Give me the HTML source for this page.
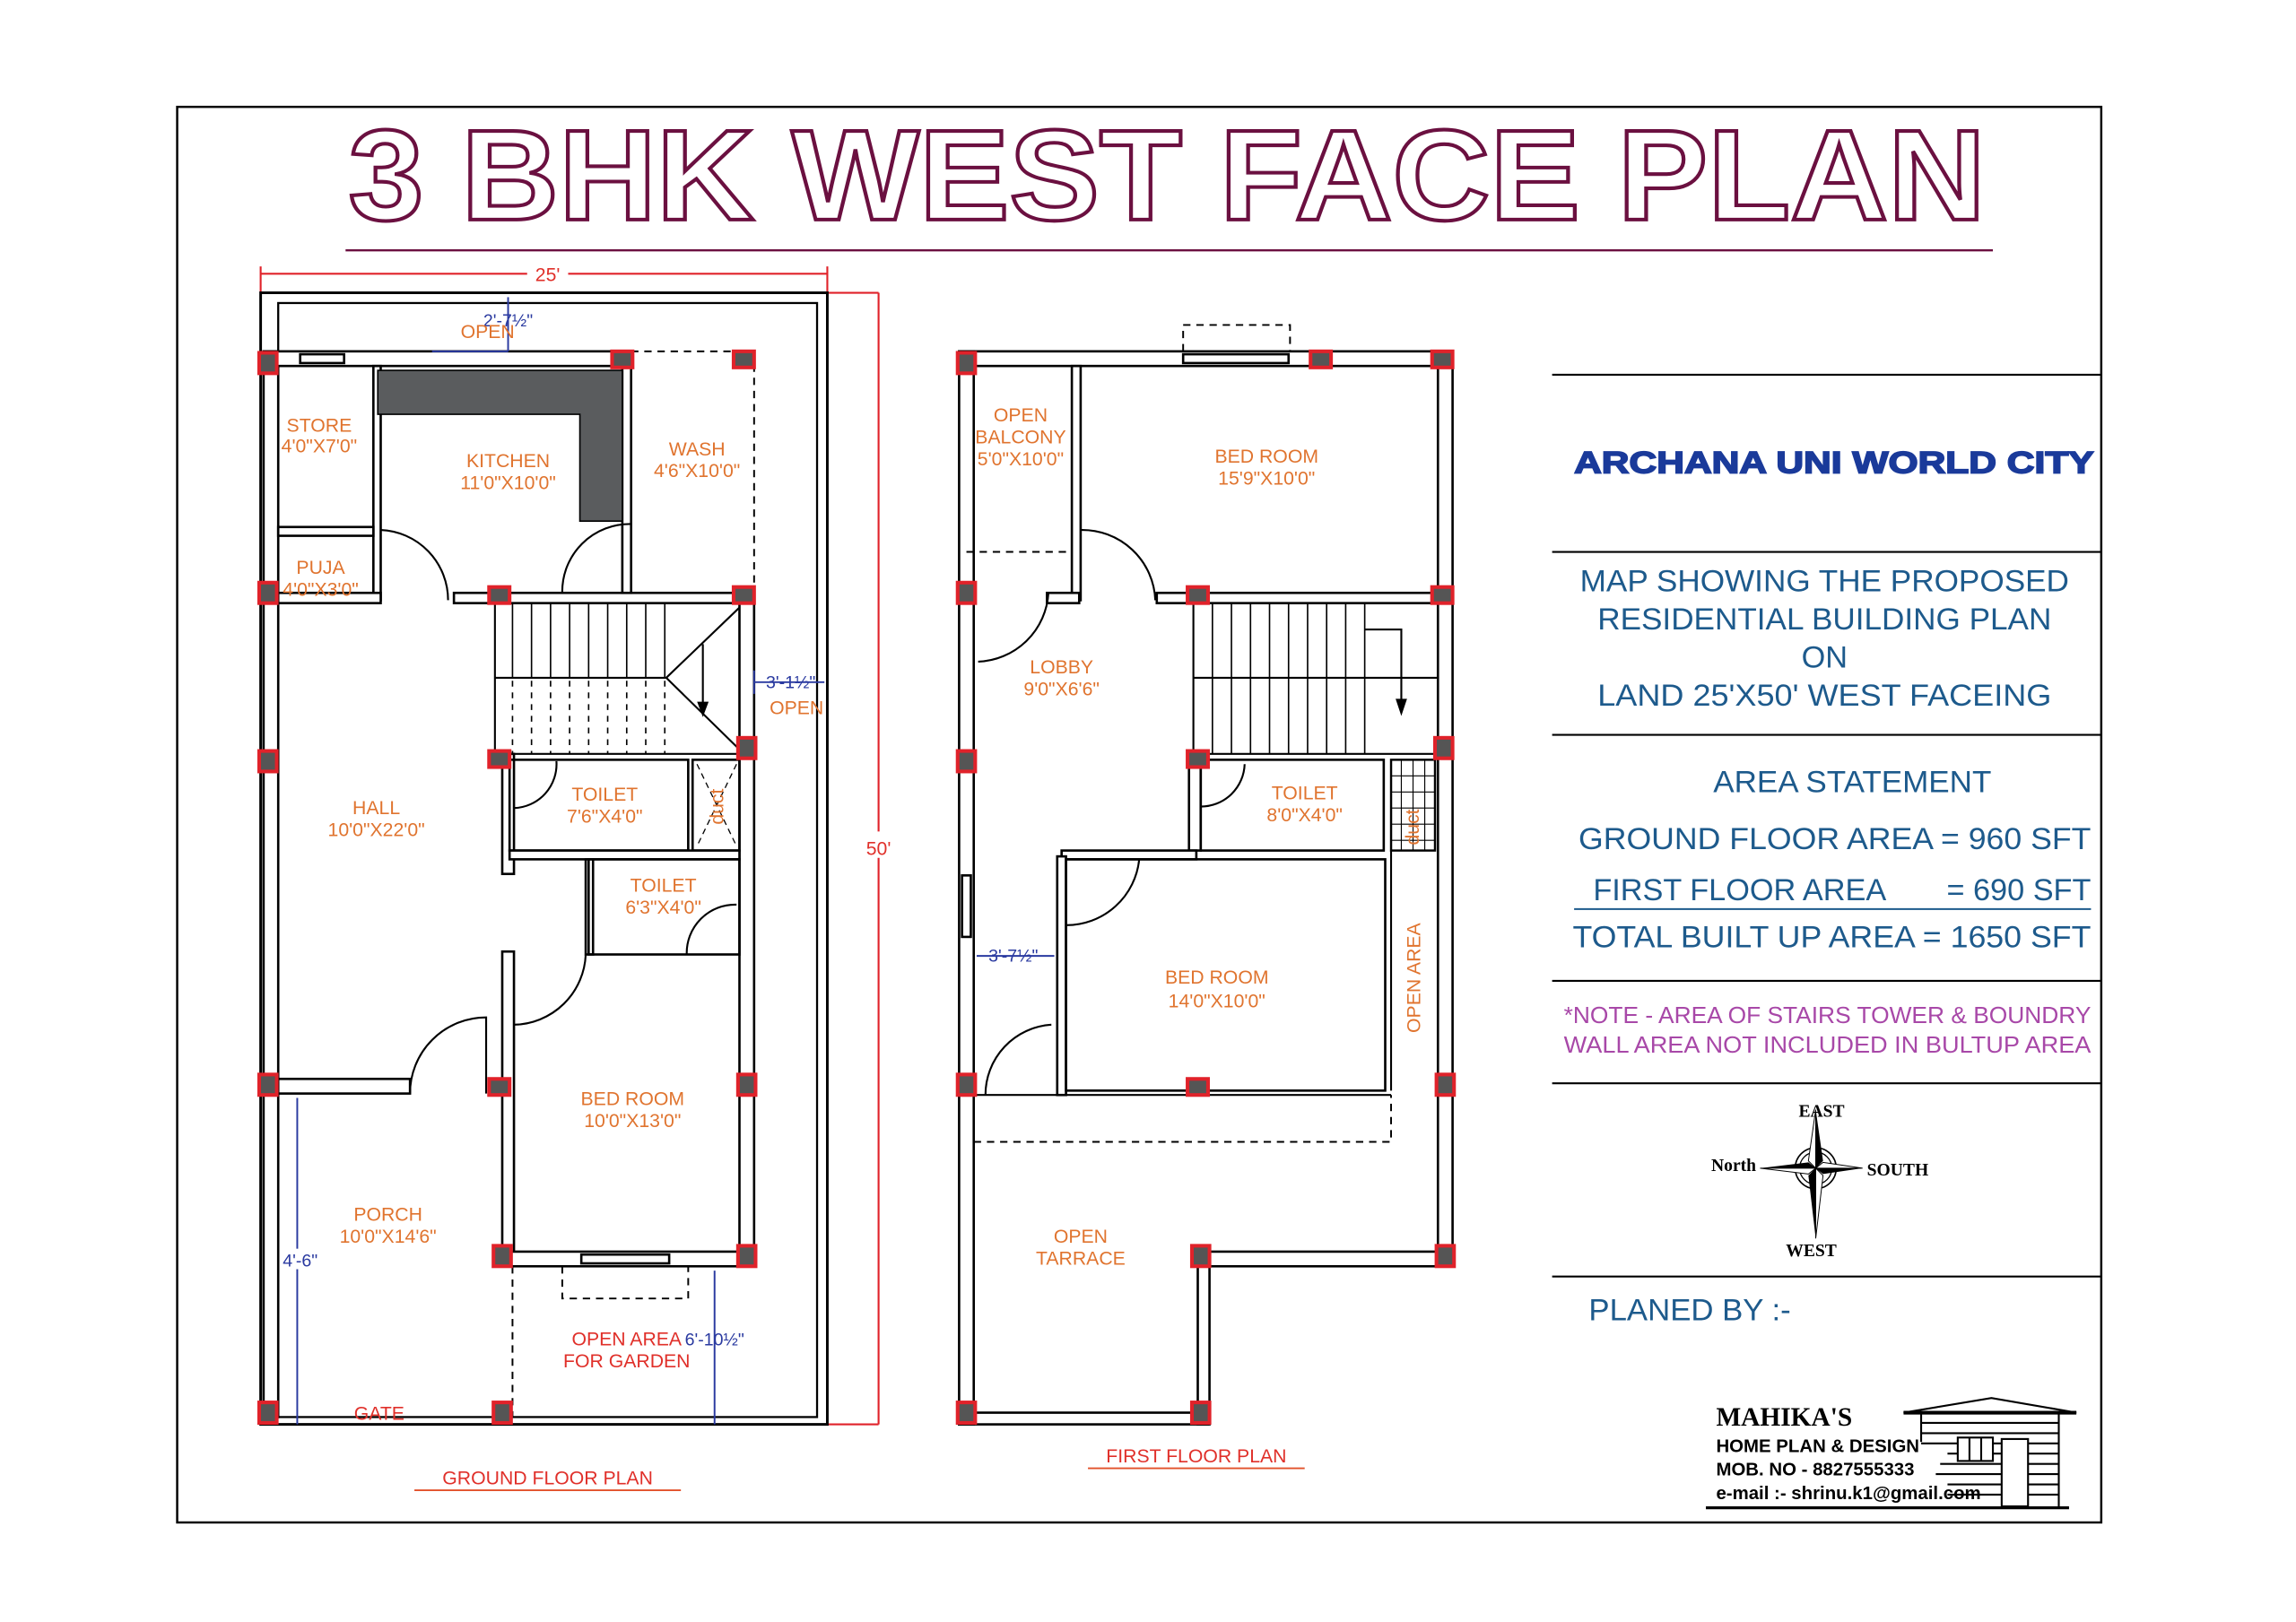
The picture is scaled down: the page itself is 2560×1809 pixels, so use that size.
<!DOCTYPE html>
<html><head><meta charset="utf-8"><style>
html,body{margin:0;padding:0;background:#fff;}
svg{display:block;}
.o{fill:#e0742f;font-family:"Liberation Sans",sans-serif;font-size:13px;text-anchor:middle;}
.r{fill:#e0302a;font-family:"Liberation Sans",sans-serif;font-size:13px;text-anchor:middle;}
.b{fill:#2a3aa0;font-family:"Liberation Sans",sans-serif;font-size:12px;text-anchor:middle;}
.w{fill:#fff;stroke:#000;stroke-width:1.6;}
.t{fill:#1d5a8c;font-family:"Liberation Sans",sans-serif;font-size:21px;}
.c{fill:#555;stroke:#e0222a;stroke-width:2.5;}
.d{fill:none;stroke:#000;stroke-width:1.2;stroke-dasharray:5 4;}
.l{stroke:#000;stroke-width:1.3;fill:none;}
</style></head><body>
<svg width="2560" height="1809" viewBox="0 0 1568 1108" preserveAspectRatio="none" xmlns="http://www.w3.org/2000/svg">
<rect x="121" y="73" width="1314" height="967" fill="none" stroke="#000" stroke-width="1.5"/>
<text x="797" y="150" font-family="Liberation Sans,sans-serif" font-weight="bold" font-size="88" fill="#fff" stroke="#6b1040" stroke-width="2.5" text-anchor="middle" textLength="1118" lengthAdjust="spacingAndGlyphs">3 BHK WEST FACE PLAN</text>
<line x1="236" y1="171" x2="1361" y2="171" stroke="#6b1040" stroke-width="1.5"/>

<!-- GROUND FLOOR -->
<g stroke="#e0222a" stroke-width="1.3" fill="none">
<line x1="178" y1="187" x2="565" y2="187"/><line x1="178" y1="182" x2="178" y2="200"/><line x1="565" y1="182" x2="565" y2="200"/>
<line x1="600" y1="200" x2="600" y2="973"/><line x1="565" y1="200" x2="600" y2="200"/><line x1="565" y1="973" x2="600" y2="973"/>
</g>
<rect x="360" y="178" width="28" height="14" fill="#fff"/>
<text x="374" y="192" class="r" font-size="15">25'</text>
<rect x="588" y="568" width="24" height="18" fill="#fff"/>
<text x="600" y="584" class="r" font-size="15">50'</text>
<rect x="178" y="200" width="387" height="773" fill="none" stroke="#000" stroke-width="1.8"/>
<rect x="190" y="207" width="368" height="761" fill="none" stroke="#000" stroke-width="1.4"/>
<!-- walls -->
<rect x="180" y="240" width="10" height="728" class="w"/>
<rect x="180" y="240" width="250" height="10" class="w"/>
<rect x="205" y="242" width="30" height="6" class="w"/>
<rect x="505" y="405" width="10" height="455" class="w"/>
<rect x="255" y="250" width="5" height="160" class="w"/>
<rect x="190" y="360" width="65" height="6" class="w"/>
<rect x="190" y="405" width="70" height="7" class="w"/>
<rect x="310" y="405" width="205" height="7" class="w"/>
<rect x="425" y="250" width="6" height="155" class="w"/>
<path d="M258 253H425V356H396V283H258Z" fill="#5a5c5e" stroke="#000"/>
<line x1="431" y1="240" x2="515" y2="240" class="d"/><line x1="515" y1="240" x2="515" y2="405" class="d"/>
<!-- doors -->
<path d="M260 362A48 48 0 0 1 306 410" class="l"/><path d="M384 405A46 46 0 0 1 431 358" class="l"/>
<!-- stairs -->
<g class="l"><line x1="338" y1="412" x2="338" y2="515"/><line x1="338" y1="463" x2="455" y2="463"/><line x1="338" y1="515" x2="505" y2="515"/>
<line x1="455" y1="463" x2="505" y2="415"/><line x1="455" y1="463" x2="505" y2="512"/><line x1="480" y1="440" x2="480" y2="485"/>
<path d="M477 480L480 488L483 480Z" fill="#000"/></g>
<g stroke="#000" stroke-width="1">
<line x1="350" y1="412" x2="350" y2="463"/><line x1="363" y1="412" x2="363" y2="463"/><line x1="376" y1="412" x2="376" y2="463"/><line x1="389" y1="412" x2="389" y2="463"/><line x1="402" y1="412" x2="402" y2="463"/><line x1="415" y1="412" x2="415" y2="463"/><line x1="428" y1="412" x2="428" y2="463"/><line x1="441" y1="412" x2="441" y2="463"/><line x1="454" y1="412" x2="454" y2="463"/>
</g>
<g stroke="#000" stroke-width="1" stroke-dasharray="4 4">
<line x1="350" y1="465" x2="350" y2="515"/><line x1="363" y1="465" x2="363" y2="515"/><line x1="376" y1="465" x2="376" y2="515"/><line x1="389" y1="465" x2="389" y2="515"/><line x1="402" y1="465" x2="402" y2="515"/><line x1="415" y1="465" x2="415" y2="515"/><line x1="428" y1="465" x2="428" y2="515"/><line x1="441" y1="465" x2="441" y2="515"/><line x1="454" y1="465" x2="454" y2="515"/>
</g>
<!-- toilets -->
<rect x="343" y="515" width="8" height="82" class="w"/>
<rect x="348" y="519" width="122" height="62" fill="none" stroke="#000" stroke-width="1.6"/>
<rect x="473" y="519" width="32" height="62" fill="none" stroke="#000" stroke-width="1.6"/>
<path d="M476 522L503 578M503 522L476 578" stroke="#000" stroke-width="0.8" stroke-dasharray="4 3"/>
<path d="M351 552A30 30 0 0 0 380 520" class="l"/>
<rect x="348" y="581" width="157" height="6" class="w"/>
<rect x="400" y="587" width="5" height="65" class="w"/>
<rect x="402" y="587" width="103" height="65" fill="none" stroke="#000" stroke-width="1.6"/>
<path d="M469 652A33 33 0 0 1 503 618" class="l"/>
<rect x="343" y="650" width="8" height="210" class="w"/>
<path d="M351 700A50 50 0 0 0 400 652" class="l"/>
<rect x="190" y="737" width="90" height="10" class="w"/>
<path d="M280 747A52 52 0 0 1 332 695V747" class="l"/>
<rect x="343" y="855" width="172" height="10" class="w"/>
<rect x="397" y="857" width="60" height="6" class="w"/>
<path d="M384 865V887H470V865" class="d"/>
<line x1="350" y1="865" x2="350" y2="968" class="d"/>
<!-- blue dims -->
<g stroke="#2a3aa0" stroke-width="1.2">
<line x1="347" y1="203" x2="347" y2="240"/><line x1="295" y1="240" x2="347" y2="240"/>
<line x1="515" y1="466" x2="563" y2="466"/><line x1="515" y1="458" x2="515" y2="474"/>
<line x1="203" y1="750" x2="203" y2="973"/><line x1="488" y1="868" x2="488" y2="973"/>
</g>
<text x="347" y="223" class="b">2'-7½"</text>
<text x="333" y="231" class="o">OPEN</text>
<text x="540" y="470" class="b">3'-1½"</text>
<text x="544" y="488" class="o">OPEN</text>
<rect x="193" y="853" width="22" height="14" fill="#fff"/>
<text x="205" y="865" class="b">4'-6"</text>
<text x="488" y="919" class="b">6'-10½"</text>
<!-- columns GF -->
<g class="c">
<rect x="177" y="241" width="12" height="14"/><rect x="418" y="240" width="14" height="11"/><rect x="501" y="240" width="14" height="11"/>
<rect x="177" y="398" width="12" height="14"/><rect x="334" y="401" width="14" height="11"/><rect x="501" y="401" width="14" height="11"/>
<rect x="177" y="513" width="12" height="14"/><rect x="334" y="513" width="14" height="11"/><rect x="504" y="504" width="12" height="14"/>
<rect x="177" y="734" width="12" height="14"/><rect x="334" y="737" width="14" height="11"/><rect x="504" y="734" width="12" height="14"/>
<rect x="337" y="851" width="12" height="14"/><rect x="504" y="851" width="12" height="14"/>
<rect x="177" y="958" width="12" height="14"/><rect x="337" y="958" width="12" height="14"/>
</g>
<!-- GF labels -->
<text x="218" y="295" class="o">STORE</text><text x="218" y="309" class="o">4'0"X7'0"</text>
<text x="347" y="319" class="o">KITCHEN</text><text x="347" y="334" class="o">11'0"X10'0"</text>
<text x="476" y="311" class="o">WASH</text><text x="476" y="326" class="o">4'6"X10'0"</text>
<text x="219" y="392" class="o">PUJA</text><text x="219" y="407" class="o">4'0"X3'0"</text>
<text x="257" y="556" class="o">HALL</text><text x="257" y="571" class="o">10'0"X22'0"</text>
<text x="413" y="547" class="o">TOILET</text><text x="413" y="562" class="o">7'6"X4'0"</text>
<text x="494" y="551" class="o" font-size="11" transform="rotate(-90 494 551)">duct</text>
<text x="453" y="609" class="o">TOILET</text><text x="453" y="624" class="o">6'3"X4'0"</text>
<text x="432" y="755" class="o">BED ROOM</text><text x="432" y="770" class="o">10'0"X13'0"</text>
<text x="265" y="834" class="o">PORCH</text><text x="265" y="849" class="o">10'0"X14'6"</text>
<text x="428" y="919" class="r">OPEN AREA</text><text x="428" y="934" class="r">FOR GARDEN</text>
<text x="259" y="970" class="r">GATE</text>
<text x="374" y="1014" class="r" font-size="17" fill="#e2502a">GROUND FLOOR PLAN</text>
<line x1="283" y1="1018" x2="465" y2="1018" stroke="#e2502a" stroke-width="1.2"/>

<!-- FIRST FLOOR -->
<rect x="655" y="240" width="10" height="733" class="w"/>
<rect x="655" y="240" width="337" height="10" class="w"/>
<rect x="808" y="242" width="72" height="6" class="w"/>
<path d="M808 240V222H881V240" class="d"/>
<rect x="982" y="240" width="10" height="620" class="w"/>
<rect x="655" y="965" width="170" height="8" class="w"/>
<rect x="818" y="858" width="8" height="115" class="w"/>
<rect x="818" y="855" width="174" height="10" class="w"/>
<rect x="732" y="250" width="6" height="160" class="w"/>
<line x1="660" y1="377" x2="732" y2="377" class="d"/>
<rect x="715" y="405" width="22" height="7" class="w"/>
<rect x="790" y="405" width="202" height="7" class="w"/>
<path d="M738 362A50 50 0 0 1 789 410" class="l"/>
<path d="M668 452A50 50 0 0 0 716 405" class="l"/>
<!-- FF stairs -->
<g class="l"><line x1="815" y1="412" x2="815" y2="515"/><line x1="815" y1="463" x2="982" y2="463"/><line x1="815" y1="515" x2="982" y2="515"/>
<path d="M932 430H957V478"/><path d="M954 478L957 487L960 478Z" fill="#000"/></g>
<g stroke="#000" stroke-width="1">
<line x1="828" y1="412" x2="828" y2="515"/><line x1="841" y1="412" x2="841" y2="515"/><line x1="854" y1="412" x2="854" y2="515"/><line x1="867" y1="412" x2="867" y2="515"/><line x1="880" y1="412" x2="880" y2="515"/><line x1="893" y1="412" x2="893" y2="515"/><line x1="906" y1="412" x2="906" y2="515"/><line x1="919" y1="412" x2="919" y2="515"/><line x1="932" y1="412" x2="932" y2="515"/>
</g>
<rect x="812" y="519" width="8" height="62" class="w"/>
<rect x="820" y="519" width="125" height="62" fill="none" stroke="#000" stroke-width="1.6"/>
<path d="M820 551A30 30 0 0 0 850 522" class="l"/>
<rect x="950" y="519" width="30" height="62" fill="#fff" stroke="#000" stroke-width="1.5"/>
<g stroke="#000" stroke-width="0.7"><line x1="957" y1="519" x2="957" y2="581"/><line x1="965" y1="519" x2="965" y2="581"/><line x1="973" y1="519" x2="973" y2="581"/>
<line x1="950" y1="530" x2="980" y2="530"/><line x1="950" y1="541" x2="980" y2="541"/><line x1="950" y1="552" x2="980" y2="552"/><line x1="950" y1="563" x2="980" y2="563"/><line x1="950" y1="574" x2="980" y2="574"/></g>
<line x1="950" y1="581" x2="950" y2="745" class="l"/>
<rect x="725" y="581" width="92" height="6" class="w"/>
<rect x="722" y="585" width="6" height="163" class="w"/>
<rect x="728" y="587" width="218" height="158" fill="none" stroke="#000" stroke-width="1.6"/>
<path d="M728 632A50 50 0 0 0 778 587" class="l"/>
<line x1="665" y1="748" x2="950" y2="748" class="l"/>
<path d="M673 748A48 48 0 0 1 718 700" class="l"/>
<rect x="657" y="598" width="6" height="42" class="w"/>
<path d="M665 780H950V748" class="d"/>
<line x1="667" y1="653" x2="720" y2="653" stroke="#2a3aa0" stroke-width="1.2"/>
<text x="692" y="657" class="b">3'-7½"</text>
<g class="c">
<rect x="654" y="241" width="12" height="14"/><rect x="895" y="240" width="14" height="11"/><rect x="978" y="240" width="14" height="11"/>
<rect x="654" y="398" width="12" height="14"/><rect x="811" y="401" width="14" height="11"/><rect x="978" y="401" width="14" height="11"/>
<rect x="654" y="513" width="12" height="14"/><rect x="811" y="513" width="14" height="11"/><rect x="980" y="504" width="12" height="14"/>
<rect x="654" y="734" width="12" height="14"/><rect x="811" y="737" width="14" height="11"/><rect x="981" y="734" width="12" height="14"/>
<rect x="814" y="851" width="12" height="14"/><rect x="981" y="851" width="12" height="14"/>
<rect x="654" y="958" width="12" height="14"/><rect x="814" y="958" width="12" height="14"/>
</g>
<text x="697" y="288" class="o">OPEN</text><text x="697" y="303" class="o">BALCONY</text><text x="697" y="318" class="o">5'0"X10'0"</text>
<text x="865" y="316" class="o">BED ROOM</text><text x="865" y="331" class="o">15'9"X10'0"</text>
<text x="725" y="460" class="o">LOBBY</text><text x="725" y="475" class="o">9'0"X6'6"</text>
<text x="891" y="546" class="o">TOILET</text><text x="891" y="561" class="o">8'0"X4'0"</text>
<text x="969" y="565" class="o" font-size="11" transform="rotate(-90 969 565)">duct</text>
<text x="831" y="672" class="o">BED ROOM</text><text x="831" y="688" class="o">14'0"X10'0"</text>
<text x="970" y="668" class="o" transform="rotate(-90 970 668)">OPEN AREA</text>
<text x="738" y="849" class="o">OPEN</text><text x="738" y="864" class="o">TARRACE</text>
<text x="817" y="999" class="r" font-size="17" fill="#e2502a">FIRST FLOOR PLAN</text>
<line x1="743" y1="1003" x2="891" y2="1003" stroke="#e2502a" stroke-width="1.2"/>

<!-- RIGHT PANEL -->
<g stroke="#000" stroke-width="1.3">
<line x1="1060" y1="256" x2="1435" y2="256"/><line x1="1060" y1="377" x2="1435" y2="377"/><line x1="1060" y1="502" x2="1435" y2="502"/>
<line x1="1060" y1="670" x2="1435" y2="670"/><line x1="1060" y1="740" x2="1435" y2="740"/><line x1="1060" y1="872" x2="1435" y2="872"/>
</g>
<text x="1075" y="323" font-family="Liberation Sans,sans-serif" font-weight="bold" font-size="21" fill="#1a3a9a" stroke="#1a3a9a" stroke-width="1" textLength="355" lengthAdjust="spacingAndGlyphs">ARCHANA UNI WORLD CITY</text>
<g class="t" text-anchor="middle">
<text x="1246" y="404" textLength="334" lengthAdjust="spacingAndGlyphs">MAP SHOWING THE PROPOSED</text>
<text x="1246" y="430" textLength="310" lengthAdjust="spacingAndGlyphs">RESIDENTIAL BUILDING PLAN</text>
<text x="1246" y="456">ON</text>
<text x="1246" y="482" textLength="310" lengthAdjust="spacingAndGlyphs">LAND 25'X50' WEST FACEING</text>
<text x="1265" y="541" textLength="190" lengthAdjust="spacingAndGlyphs">AREA STATEMENT</text>
</g>
<text x="1078" y="580" class="t" textLength="350" lengthAdjust="spacingAndGlyphs">GROUND FLOOR AREA = 960 SFT</text>
<text x="1088" y="615" class="t">FIRST  FLOOR AREA</text>
<text x="1428" y="615" class="t" text-anchor="end">= 690 SFT</text>
<line x1="1075" y1="621" x2="1428" y2="621" stroke="#1d5a8c" stroke-width="1.2"/>
<text x="1074" y="647" class="t" textLength="354" lengthAdjust="spacingAndGlyphs">TOTAL BUILT UP AREA = 1650 SFT</text>
<text x="1068" y="699" font-family="Liberation Sans,sans-serif" font-size="16" fill="#a848a8" textLength="360" lengthAdjust="spacingAndGlyphs">*NOTE - AREA OF STAIRS TOWER &amp; BOUNDRY</text>
<text x="1068" y="719" font-family="Liberation Sans,sans-serif" font-size="16" fill="#a848a8" textLength="360" lengthAdjust="spacingAndGlyphs">WALL AREA NOT INCLUDED IN BULTUP AREA</text>
<!-- compass -->
<g transform="translate(1240 798)">
<circle r="14" fill="none" stroke="#000" stroke-width="1"/><circle r="11" fill="none" stroke="#000" stroke-width="0.8"/>
<path d="M0 -40L5 -5L0 0Z" fill="#000"/><path d="M0 -40L-5 -5L0 0Z" fill="#fff" stroke="#000" stroke-width="0.6"/>
<path d="M0 48L5 5L0 0Z" fill="#fff" stroke="#000" stroke-width="0.6"/><path d="M0 48L-5 5L0 0Z" fill="#000"/>
<path d="M-38 0L-5 -4L0 0Z" fill="#000"/><path d="M-38 0L-5 4L0 0Z" fill="#fff" stroke="#000" stroke-width="0.6"/>
<path d="M32 0L5 -4L0 0Z" fill="#fff" stroke="#000" stroke-width="0.6"/><path d="M32 0L5 4L0 0Z" fill="#000"/>
</g>
<g font-family="Liberation Serif,serif" font-weight="bold" font-size="12" fill="#000" text-anchor="middle">
<text x="1244" y="763">EAST</text><text x="1184" y="800">North</text><text x="1296" y="803">SOUTH</text><text x="1237" y="858">WEST</text>
</g>
<text x="1085" y="902" class="t" textLength="138" lengthAdjust="spacingAndGlyphs">PLANED BY :-</text>
<text x="1172" y="974" font-family="Liberation Serif,serif" font-weight="bold" font-size="18" fill="#000">MAHIKA'S</text>
<g font-family="Liberation Sans,sans-serif" font-weight="bold" font-size="12.5" fill="#000">
<text x="1172" y="992">HOME PLAN &amp; DESIGN</text><text x="1172" y="1008">MOB. NO - 8827555333</text><text x="1172" y="1024">e-mail :- shrinu.k1@gmail.com</text>
</g>
<line x1="1165" y1="1030" x2="1413" y2="1030" stroke="#000" stroke-width="2"/>
<g stroke="#000" stroke-width="1.3" fill="none">
<path d="M1300 965L1360 955L1418 965Z" fill="#fff"/>
<line x1="1300" y1="965" x2="1418" y2="965" stroke-width="2.5"/>
<line x1="1312" y1="966" x2="1312" y2="985"/><line x1="1406" y1="966" x2="1406" y2="1030"/>
<line x1="1312" y1="972" x2="1406" y2="972"/><line x1="1312" y1="979" x2="1406" y2="979"/><line x1="1312" y1="986" x2="1406" y2="986"/>
<line x1="1330" y1="993" x2="1406" y2="993"/><line x1="1325" y1="1000" x2="1406" y2="1000"/><line x1="1322" y1="1007" x2="1406" y2="1007"/><line x1="1330" y1="1014" x2="1406" y2="1014"/><line x1="1330" y1="1021" x2="1406" y2="1021"/>
<rect x="1337" y="982" width="24" height="16" fill="#fff"/><line x1="1345" y1="982" x2="1345" y2="998"/><line x1="1353" y1="982" x2="1353" y2="998"/>
<rect x="1367" y="983" width="18" height="46" fill="#fff"/>
</g>
</svg>
</body></html>
